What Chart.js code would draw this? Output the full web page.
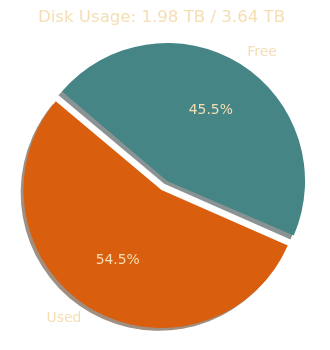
<!DOCTYPE html>
<html>
<head>
<meta charset="utf-8">
<script src="https://cdn.jsdelivr.net/npm/chart.js@4"></script>
<style>
  body { margin: 0; background: #fff; }
</style>
</head>
<body>
<canvas id="myChart" width="330" height="350"></canvas>
<script>
// disk numbers (TB)
const labels = ['Free', 'Used'];
const values = [1.656, 1.984];
const colors = ['#468585', '#d95f0e'];
const explode = [42, 0];   // chart.js arc offset, shifts by offset/4 px
const usedTB = 1.98;
const totalTB = 3.64;

const wheat = '#f5deb3';

// chart.js grows an offset arc's radius a bit, undo that so exploded slice keeps same size
function radiusFix(arc, i) {
  const off = (explode[i] || 0) / 4;
  const circ = arc.endAngle - arc.startAngle;
  return off * (1 - Math.sin(Math.min(Math.PI, circ)));
}

// matplotlib-like drop shadow: darker face colour, half alpha, shifted down-left
const shadowPlugin = {
  id: 'shadow',
  beforeDatasetsDraw(chart) {
    const ctx = chart.ctx;
    const meta = chart.getDatasetMeta(0);
    meta.data.forEach((arc, i) => {
      const off = (explode[i] || 0) / 4;
      const half = (arc.startAngle + arc.endAngle) / 2;
      const x = arc.x + Math.cos(half) * off - 2.8;
      const y = arc.y + Math.sin(half) * off + 2.8;
      const c = Chart.helpers.color(colors[i]);
      const r = Math.round(c._rgb.r * 0.3), g = Math.round(c._rgb.g * 0.3), b = Math.round(c._rgb.b * 0.3);
      ctx.save();
      ctx.fillStyle = 'rgba(' + r + ',' + g + ',' + b + ',0.5)';
      ctx.beginPath();
      ctx.moveTo(x, y);
      ctx.arc(x, y, arc.outerRadius, arc.startAngle, arc.endAngle);
      ctx.closePath();
      ctx.fill();
      ctx.restore();
      arc._fix = radiusFix(arc, i);
      arc.outerRadius -= arc._fix;
    });
  },
  afterDatasetsDraw(chart) {
    chart.getDatasetMeta(0).data.forEach((arc) => {
      arc.outerRadius += arc._fix || 0;
      arc._fix = 0;
    });
  }
};

const labelPlugin = {
  id: 'pieLabels',
  afterDraw(chart) {
    const ctx = chart.ctx;
    const meta = chart.getDatasetMeta(0);
    const total = values.reduce((a, b) => a + b, 0);
    ctx.save();
    ctx.font = '13.9px "DejaVu Sans"';
    ctx.fillStyle = wheat;
    ctx.textBaseline = 'middle';
    meta.data.forEach((arc, i) => {
      const off = (explode[i] || 0) / 4;
      const half = (arc.startAngle + arc.endAngle) / 2;
      const cx = arc.x + Math.cos(half) * off;
      const cy = arc.y + Math.sin(half) * off;
      const R = arc.outerRadius;
      // outer label
      ctx.textAlign = Math.cos(half) > 0 ? 'left' : 'right';
      ctx.fillText(labels[i], cx + Math.cos(half) * R * 1.1, cy + Math.sin(half) * R * 1.1);
      // percentage
      ctx.textAlign = 'center';
      const pct = (values[i] / total * 100).toFixed(1) + '%';
      ctx.fillText(pct, cx + Math.cos(half) * R * 0.6, cy + Math.sin(half) * R * 0.6);
    });
    ctx.restore();
  }
};

var ctx = document.getElementById('myChart').getContext('2d');

const data = {
  labels: labels,
  datasets: [
    {
      data: values,
      backgroundColor: colors,
      borderWidth: 0,
      offset: explode,
      hoverOffset: 0
    }
  ]
};

const config = {
  type: 'pie',
  data: data,
  options: {
    responsive: false,
    animation: false,
    rotation: -50,
    radius: 138,
    layout: { padding: { left: 0, right: 7, top: 0, bottom: 0 } },
    plugins: {
      legend: { display: false },
      tooltip: { enabled: false },
      title: {
        display: true,
        text: 'Disk Usage: ' + usedTB.toFixed(2) + ' TB / ' + totalTB.toFixed(2) + ' TB',
        color: wheat,
        font: { family: 'DejaVu Sans', size: 16.6, weight: 'normal', lineHeight: 1.2 },
        padding: { top: 8, bottom: 2 }
      }
    }
  },
  plugins: [shadowPlugin, labelPlugin]
};

var myChart = new Chart(ctx, config);
</script>
</body>
</html>
